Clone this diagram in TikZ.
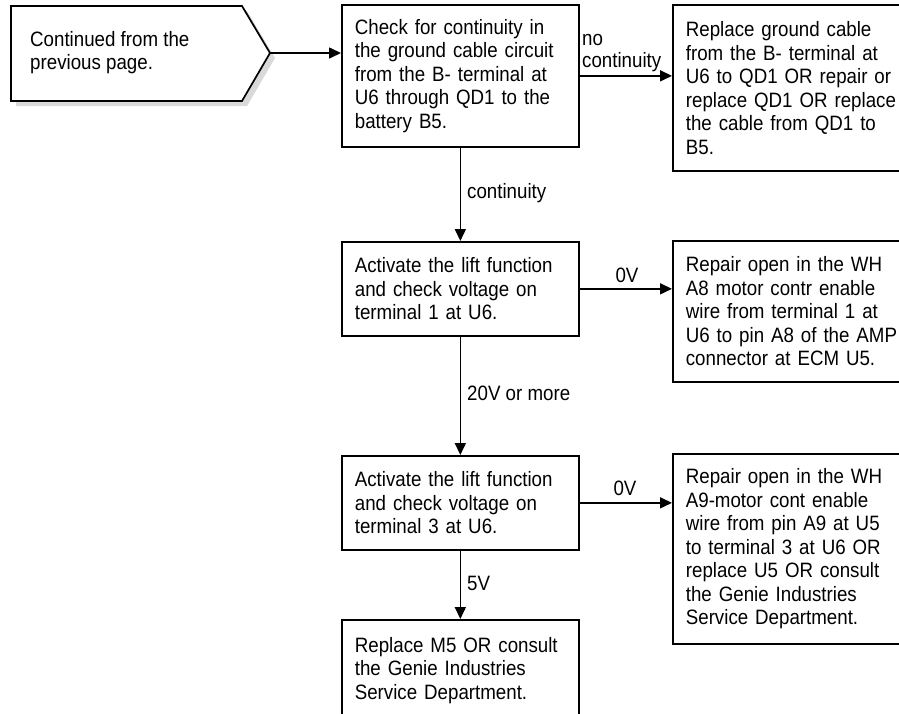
\documentclass[tikz,border=0pt]{standalone}
\usepackage{fontspec}
\setmainfont[FakeStretch=0.9]{Liberation Sans}
\usetikzlibrary{arrows.meta}
\newcommand{\fsz}{\fontsize{20.8pt}{23.5pt}\selectfont}
\begin{document}
\begin{tikzpicture}[x=1pt,y=-1pt,
  box/.style={draw, line width=1.7pt, anchor=north west, align=left,
    inner xsep=13pt, inner ysep=0pt, font=\fsz},
  lbl/.style={inner sep=0pt, font=\fsz},
  arr/.style={line width=1.6pt, -{Triangle[length=12pt,width=11pt]}}]
\useasboundingbox (0,0) rectangle (899,713);
% pentagon start shape with shadow
\fill[black!15] (16,11) -- (247,11) -- (275,58) -- (247,106) -- (16,106) -- cycle;
\draw[line width=1.7pt, fill=white] (11,6) -- (242,6) -- (270,53) -- (242,101) -- (11,101) -- cycle;
\coordinate (tip) at (270,53);
\node[lbl, anchor=north west, align=left] (cont) at (30,31) {Continued from the\\previous page.};
% left column
\node[box, minimum width=237pt, minimum height=142pt, text width=211pt] (b1) at (341,4)
  {Check for continuity in\\the ground cable circuit\\from the B- terminal at\\U6 through QD1 to the\\battery B5.};
\node[box, minimum width=237pt, minimum height=94pt, text width=211pt] (b3) at (341,241)
  {Activate the lift function\\and check voltage on\\terminal 1 at U6.};
\node[box, minimum width=237pt, minimum height=94pt, text width=211pt] (b5) at (341,455)
  {Activate the lift function\\and check voltage on\\terminal 3 at U6.};
\node[box, minimum width=237pt, minimum height=101pt, text width=211pt] (b7) at (341,619)
  {Replace M5 OR consult\\the Genie Industries\\Service Department.};
% right column
\node[box, minimum width=245pt, minimum height=166pt, text width=219pt] (b2) at (672,4)
  {Replace ground cable\\from the B- terminal at\\U6 to QD1 OR repair or\\replace QD1 OR replace\\the cable from QD1 to\\B5.};
\node[box, minimum width=245pt, minimum height=141pt, text width=219pt] (b4) at (672,240)
  {Repair open in the WH\\A8 motor contr enable\\wire from terminal 1 at\\U6 to pin A8 of the AMP\\connector at ECM U5.};
\node[box, minimum width=245pt, minimum height=190pt, text width=219pt] (b6) at (672,453)
  {Repair open in the WH\\A9-motor cont enable\\wire from pin A9 at U5\\to terminal 3 at U6 OR\\replace U5 OR consult\\the Genie Industries\\Service Department.};
% connectors
\draw[arr] (tip) -- (tip -| b1.west);
\draw[arr] (b1.east) -- (b1.east -| b2.west);
\draw[arr] (b1.south) -- (b3.north);
\draw[arr] (b3.east) -- (b3.east -| b4.west);
\draw[arr] (b3.south) -- (b5.north);
\draw[arr] (b5.east) -- (b5.east -| b6.west);
\draw[arr] (b5.south) -- (b7.north);
% labels
\node[lbl, anchor=base west] (lno) at (582,45) {no};
\node[lbl, anchor=base west] (lnc) at (582,67) {continuity};
\node[lbl, anchor=west] (lc) at (467,193) {continuity};
\node[lbl] (l0a) at (627,275) {0V};
\node[lbl, anchor=west] (l20) at (467,393) {20V or more};
\node[lbl] (l0b) at (625,488) {0V};
\node[lbl, anchor=west] (l5) at (467,583) {5V};
\end{tikzpicture}
\end{document}
